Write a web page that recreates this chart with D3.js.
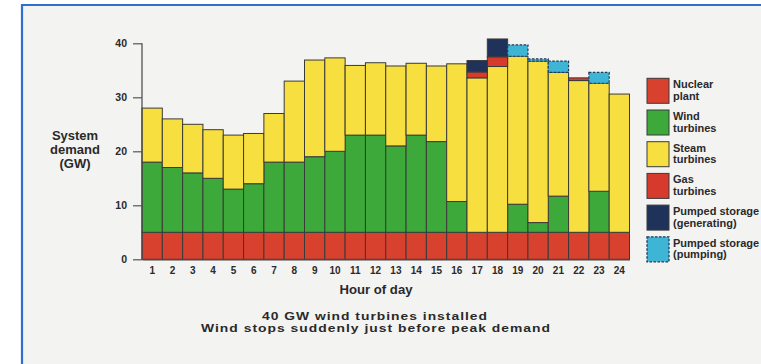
<!DOCTYPE html>
<html>
<head>
<meta charset="utf-8">
<script src="https://cdn.jsdelivr.net/npm/d3@7"></script>
<style>
  html, body { margin: 0; padding: 0; background: #ffffff; }
  svg { display: block; }
  text { font-family: "Liberation Sans", Arial, Helvetica, sans-serif; font-weight: bold; fill: #2a2a2a; }
</style>
</head>
<body>
<svg id="chart" width="761" height="364"></svg>
<script>
// ---- data ----
const hours = d3.range(1, 25);
const nuclear = [5,5,5,5,5,5,5,5,5,5,5,5,5,5,5,5,5,5,5,5,5,5,5,5];
const wind    = [13,12,11,10,8,9,13,13,14,15,18,18,16,18,16.8,5.7,0,0,5.2,1.8,6.7,0,7.6,0];
const steam   = [10,9,9,9,10,9.3,9,15,17.9,17.3,12.9,13.4,14.8,13.3,14,25.5,28.6,30.7,27.4,29.9,22.9,28.1,20,25.6];
const gas     = [0,0,0,0,0,0,0,0,0,0,0,0,0,0,0,0,1.1,1.8,0,0,0,0.5,0,0];
const pumpGen = [0,0,0,0,0,0,0,0,0,0,0,0,0,0,0,0,2.1,3.3,0,0,0,0,0,0];
const pumping = [0,0,0,0,0,0,0,0,0,0,0,0,0,0,0,0,0,0,2.1,0.4,2.1,0,2.0,0];
const yTicks = [0,10,20,30,40];
const seriesKeys = ["nuclear","wind","steam","gas","pumpGen","pumping"];
const legendLabels = [
  ["Nuclear","plant"],
  ["Wind","turbines"],
  ["Steam","turbines"],
  ["Gas","turbines"],
  ["Pumped storage","(generating)"],
  ["Pumped storage","(pumping)"]
];
const colors = {
  nuclear: "#d9412f",
  wind: "#3da93a",
  steam: "#f8df40",
  gas: "#d63a2c",
  pumpGen: "#1f3259",
  pumping: "#3fb5d5"
};

const table = hours.map((h, i) => ({
  hour: h, nuclear: nuclear[i], wind: wind[i], steam: steam[i],
  gas: gas[i], pumpGen: pumpGen[i], pumping: pumping[i]
}));

const svg = d3.select("#chart");

// background / frame
svg.append("rect").attr("x", 22).attr("y", 5).attr("width", 761 - 22).attr("height", 364 - 5)
  .attr("fill", "#f3f3f2");
svg.append("path").attr("d", "M22,364 L22,5 L761,5")
  .attr("fill", "none").attr("stroke", "#2f6fd0").attr("stroke-width", 2.2);

const x = d3.scaleBand().domain(hours).range([142, 629.5]).padding(0);
const y = d3.scaleLinear().domain([0, 40]).range([259.3, 43.3]);

const stack = d3.stack().keys(seriesKeys);
const stacked = stack(table);

const g = svg.append("g");
stacked.forEach(layer => {
  const key = layer.key;
  g.append("g").selectAll("rect")
    .data(layer.filter(d => d[1] - d[0] > 0))
    .join("rect")
    .attr("x", d => x(d.data.hour))
    .attr("width", x.bandwidth())
    .attr("y", d => y(d[1]))
    .attr("height", d => y(d[0]) - y(d[1]))
    .attr("fill", colors[key])
    .attr("stroke", key === "pumping" ? "#1d3a5a" : "#3a3a3a")
    .attr("stroke-width", key === "pumping" ? 1.2 : 1)
    .attr("stroke-dasharray", key === "pumping" ? "2.5,1.5" : null);
});

// y axis
const yAxis = d3.axisLeft(y).tickValues(yTicks).tickSize(9).tickPadding(6).tickFormat(d3.format("d"));
const ya = svg.append("g").attr("transform", "translate(142,0)").call(yAxis);
ya.select(".domain").attr("stroke", "#444").attr("stroke-width", 1.2).attr("d", "M0,43.3V259.3");
ya.selectAll(".tick line").attr("stroke", "#555").attr("stroke-width", 1.2);
ya.selectAll(".tick text").attr("font-size", 10.5).attr("font-family", "Liberation Sans, Arial, sans-serif")
  .attr("font-weight", "bold").attr("fill", "#2a2a2a");

// x axis
const xAxis = d3.axisBottom(x).tickSize(0).tickPadding(8);
const xa = svg.append("g").attr("transform", "translate(0,259.3)").call(xAxis);
xa.select(".domain").attr("stroke", "#444").attr("stroke-width", 1.2);
xa.selectAll(".tick text").attr("font-size", 10).attr("font-family", "Liberation Sans, Arial, sans-serif")
  .attr("font-weight", "bold").attr("fill", "#2a2a2a");

// axis titles
const yt = svg.append("text").attr("text-anchor", "middle").attr("font-size", 13);
["System","demand","(GW)"].forEach((t, i) => {
  yt.append("tspan").attr("x", 75).attr("y", 140 + i * 13.8).text(t);
});
svg.append("text").attr("x", 376).attr("y", 294).attr("text-anchor", "middle")
  .attr("font-size", 12.5).attr("textLength", 73).attr("lengthAdjust", "spacingAndGlyphs").text("Hour of day");
svg.append("text").attr("x", 375).attr("y", 319.5).attr("text-anchor", "middle")
  .attr("font-size", 11).attr("letter-spacing", 0.8)
  .attr("textLength", 226).attr("lengthAdjust", "spacingAndGlyphs").text("40 GW wind turbines installed");
svg.append("text").attr("x", 376).attr("y", 332).attr("text-anchor", "middle")
  .attr("font-size", 11).attr("letter-spacing", 0.8)
  .attr("textLength", 350).attr("lengthAdjust", "spacingAndGlyphs").text("Wind stops suddenly just before peak demand");

// legend
const lg = svg.append("g");
seriesKeys.forEach((k, i) => {
  const top = 78.3 + i * 31.7;
  lg.append("rect").attr("x", 647).attr("y", top).attr("width", 22).attr("height", 25)
    .attr("fill", colors[k])
    .attr("stroke", k === "pumping" ? "#1d3a5a" : "#3a3a3a")
    .attr("stroke-width", k === "pumping" ? 1.3 : 1)
    .attr("stroke-dasharray", k === "pumping" ? "2.5,1.5" : null);
  const t = lg.append("text").attr("font-size", 11);
  legendLabels[i].forEach((s, j) => {
    t.append("tspan").attr("x", 673).attr("y", top + 10 + j * 11.5).text(s);
  });
});
</script>
</body>
</html>
